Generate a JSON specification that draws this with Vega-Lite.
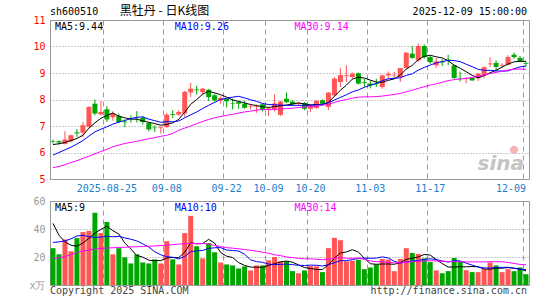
{
  "$schema": "https://vega.github.io/schema/vega-lite/v6.json",
  "background": "white",
  "padding": {"left": 28, "top": 4, "right": 0, "bottom": 0},
  "spacing": 1,
  "config": {
    "view": {"stroke": "#999", "strokeWidth": 1},
    "axis": {"labelFont": "DejaVu Sans Mono", "labelFontSize": 10, "ticks": false, "domain": false, "gridColor": "#999", "gridWidth": 1, "labelOverlap": false},
    "text": {"font": "DejaVu Sans Mono", "fontSize": 10},
    "line": {"strokeWidth": 1}
  },
  "datasets": {
    "k": [
      {"d":"2025-08-12","o":6.43,"h":6.49,"l":6.34,"c":6.41,"v":26.3,"m5":6.30,"m10":5.90,"m30":5.43,"vm5":44.0,"vm10":30.4,"vm30":18.8},
      {"d":"2025-08-13","o":6.43,"h":6.45,"l":6.30,"c":6.38,"v":21.9,"m5":6.33,"m10":6.00,"m30":5.47,"vm5":35.6,"vm10":30.8,"vm30":19.5},
      {"d":"2025-08-14","o":6.32,"h":6.80,"l":6.30,"c":6.49,"v":32.5,"m5":6.38,"m10":6.10,"m30":5.54,"vm5":30.8,"vm10":31.5,"vm30":20.3},
      {"d":"2025-08-15","o":6.42,"h":6.67,"l":6.38,"c":6.65,"v":24.1,"m5":6.45,"m10":6.20,"m30":5.62,"vm5":28.4,"vm10":33.0,"vm30":21.7},
      {"d":"2025-08-18","o":6.76,"h":6.88,"l":6.58,"c":6.72,"v":33.5,"m5":6.53,"m10":6.32,"m30":5.69,"vm5":27.7,"vm10":35.0,"vm30":23.2},
      {"d":"2025-08-19","o":6.75,"h":7.15,"l":6.58,"c":7.03,"v":37.8,"m5":6.65,"m10":6.45,"m30":5.78,"vm5":30.0,"vm10":35.5,"vm30":24.2},
      {"d":"2025-08-20","o":6.96,"h":7.74,"l":6.96,"c":7.72,"v":38.6,"m5":6.92,"m10":6.62,"m30":5.86,"vm5":33.3,"vm10":34.5,"vm30":25.0},
      {"d":"2025-08-21","o":7.84,"h":8.00,"l":7.40,"c":7.47,"v":51.6,"m5":7.12,"m10":6.78,"m30":5.95,"vm5":37.1,"vm10":34.0,"vm30":25.7},
      {"d":"2025-08-22","o":7.44,"h":7.94,"l":7.40,"c":7.53,"v":37.1,"m5":7.29,"m10":6.88,"m30":6.04,"vm5":39.7,"vm10":34.2,"vm30":26.1},
      {"d":"2025-08-25","o":7.63,"h":7.75,"l":7.15,"c":7.25,"v":45.0,"m5":7.40,"m10":6.97,"m30":6.12,"vm5":42.0,"vm10":34.8,"vm30":26.4},
      {"d":"2025-08-26","o":7.33,"h":7.56,"l":7.20,"c":7.46,"v":21.9,"m5":7.49,"m10":7.07,"m30":6.22,"vm5":38.8,"vm10":34.4,"vm30":26.6},
      {"d":"2025-08-27","o":7.38,"h":7.47,"l":7.11,"c":7.15,"v":26.3,"m5":7.37,"m10":7.15,"m30":6.28,"vm5":36.4,"vm10":34.8,"vm30":26.8},
      {"d":"2025-08-28","o":7.17,"h":7.25,"l":6.95,"c":7.14,"v":19.8,"m5":7.31,"m10":7.21,"m30":6.34,"vm5":30.0,"vm10":33.6,"vm30":27.0},
      {"d":"2025-08-29","o":7.30,"h":7.40,"l":7.13,"c":7.28,"v":15.4,"m5":7.26,"m10":7.28,"m30":6.38,"vm5":25.7,"vm10":32.7,"vm30":27.2},
      {"d":"2025-09-01","o":7.27,"h":7.56,"l":7.13,"c":7.25,"v":21.9,"m5":7.26,"m10":7.33,"m30":6.42,"vm5":21.1,"vm10":31.5,"vm30":27.3},
      {"d":"2025-09-02","o":7.30,"h":7.38,"l":7.05,"c":7.15,"v":16.1,"m5":7.19,"m10":7.34,"m30":6.47,"vm5":19.9,"vm10":29.4,"vm30":27.5},
      {"d":"2025-09-03","o":7.11,"h":7.15,"l":6.80,"c":6.87,"v":15.4,"m5":7.14,"m10":7.26,"m30":6.52,"vm5":17.7,"vm10":27.1,"vm30":27.7},
      {"d":"2025-09-04","o":6.94,"h":7.02,"l":6.77,"c":6.92,"v":18.3,"m5":7.09,"m10":7.20,"m30":6.56,"vm5":17.4,"vm10":23.7,"vm30":27.9},
      {"d":"2025-09-05","o":6.92,"h":6.98,"l":6.72,"c":6.95,"v":15.4,"m5":7.03,"m10":7.14,"m30":6.61,"vm5":17.4,"vm10":21.6,"vm30":28.2},
      {"d":"2025-09-08","o":6.96,"h":7.49,"l":6.92,"c":7.43,"v":31.3,"m5":7.06,"m10":7.16,"m30":6.65,"vm5":19.3,"vm10":20.2,"vm30":28.4},
      {"d":"2025-09-09","o":7.45,"h":7.60,"l":7.30,"c":7.42,"v":18.3,"m5":7.12,"m10":7.16,"m30":6.72,"vm5":19.7,"vm10":19.8,"vm30":28.8},
      {"d":"2025-09-10","o":7.43,"h":7.60,"l":7.38,"c":7.53,"v":14.7,"m5":7.25,"m10":7.19,"m30":6.84,"vm5":19.6,"vm10":18.7,"vm30":29.2},
      {"d":"2025-09-11","o":7.47,"h":8.32,"l":7.34,"c":8.29,"v":37.1,"m5":7.52,"m10":7.31,"m30":6.92,"vm5":23.4,"vm10":20.4,"vm30":29.6},
      {"d":"2025-09-12","o":8.27,"h":8.63,"l":8.09,"c":8.41,"v":49.4,"m5":7.82,"m10":7.42,"m30":7.00,"vm5":30.2,"vm10":23.8,"vm30":29.6},
      {"d":"2025-09-15","o":8.38,"h":8.52,"l":8.19,"c":8.35,"v":27.7,"m5":8.00,"m10":7.53,"m30":7.09,"vm5":29.4,"vm10":24.4,"vm30":29.6},
      {"d":"2025-09-16","o":8.28,"h":8.44,"l":8.19,"c":8.41,"v":19.0,"m5":8.20,"m10":7.66,"m30":7.17,"vm5":29.6,"vm10":24.7,"vm30":29.6},
      {"d":"2025-09-17","o":8.37,"h":8.40,"l":7.94,"c":8.09,"v":29.9,"m5":8.31,"m10":7.78,"m30":7.25,"vm5":32.6,"vm10":26.1,"vm30":29.2},
      {"d":"2025-09-18","o":8.16,"h":8.22,"l":7.92,"c":7.97,"v":23.4,"m5":8.25,"m10":7.89,"m30":7.31,"vm5":29.9,"vm10":26.6,"vm30":28.2},
      {"d":"2025-09-19","o":7.97,"h":8.11,"l":7.84,"c":8.06,"v":16.1,"m5":8.18,"m10":8.00,"m30":7.36,"vm5":23.2,"vm10":26.7,"vm30":27.4},
      {"d":"2025-09-22","o":8.03,"h":8.05,"l":7.70,"c":7.93,"v":14.7,"m5":8.09,"m10":8.05,"m30":7.40,"vm5":20.6,"vm10":25.0,"vm30":26.7},
      {"d":"2025-09-23","o":7.85,"h":8.03,"l":7.62,"c":7.83,"v":14.0,"m5":7.98,"m10":8.09,"m30":7.44,"vm5":19.6,"vm10":24.6,"vm30":26.3},
      {"d":"2025-09-24","o":7.90,"h":7.95,"l":7.65,"c":7.84,"v":11.8,"m5":7.93,"m10":8.12,"m30":7.49,"vm5":16.0,"vm10":24.3,"vm30":25.9},
      {"d":"2025-09-25","o":7.84,"h":7.96,"l":7.65,"c":7.69,"v":13.3,"m5":7.87,"m10":8.06,"m30":7.53,"vm5":14.0,"vm10":21.9,"vm30":25.3},
      {"d":"2025-09-26","o":7.72,"h":7.84,"l":7.62,"c":7.74,"v":10.4,"m5":7.81,"m10":7.99,"m30":7.56,"vm5":12.8,"vm10":18.0,"vm30":24.8},
      {"d":"2025-09-29","o":7.74,"h":7.81,"l":7.50,"c":7.77,"v":14.0,"m5":7.77,"m10":7.93,"m30":7.60,"vm5":12.7,"vm10":16.7,"vm30":24.2},
      {"d":"2025-09-30","o":7.82,"h":7.84,"l":7.55,"c":7.62,"v":14.0,"m5":7.73,"m10":7.85,"m30":7.62,"vm5":12.7,"vm10":16.2,"vm30":23.4},
      {"d":"2025-10-09","o":7.62,"h":7.72,"l":7.38,"c":7.66,"v":17.6,"m5":7.70,"m10":7.81,"m30":7.62,"vm5":13.9,"vm10":14.9,"vm30":22.7},
      {"d":"2025-10-10","o":7.62,"h":8.20,"l":7.55,"c":7.85,"v":20.0,"m5":7.73,"m10":7.80,"m30":7.63,"vm5":15.2,"vm10":14.6,"vm30":21.6},
      {"d":"2025-10-13","o":7.42,"h":7.95,"l":7.38,"c":7.92,"v":16.9,"m5":7.76,"m10":7.79,"m30":7.64,"vm5":16.5,"vm10":14.7,"vm30":21.0},
      {"d":"2025-10-14","o":8.03,"h":8.26,"l":7.87,"c":7.90,"v":16.9,"m5":7.79,"m10":7.78,"m30":7.66,"vm5":17.1,"vm10":14.9,"vm30":20.0},
      {"d":"2025-10-15","o":7.92,"h":7.97,"l":7.76,"c":7.82,"v":9.9,"m5":7.83,"m10":7.78,"m30":7.67,"vm5":16.3,"vm10":14.5,"vm30":19.6},
      {"d":"2025-10-16","o":7.84,"h":7.92,"l":7.78,"c":7.87,"v":8.4,"m5":7.87,"m10":7.78,"m30":7.70,"vm5":14.4,"vm10":14.1,"vm30":19.0},
      {"d":"2025-10-17","o":7.87,"h":7.90,"l":7.60,"c":7.65,"v":10.4,"m5":7.83,"m10":7.78,"m30":7.72,"vm5":12.5,"vm10":13.9,"vm30":18.7},
      {"d":"2025-10-20","o":7.65,"h":7.80,"l":7.53,"c":7.75,"v":13.5,"m5":7.80,"m10":7.78,"m30":7.73,"vm5":11.8,"vm10":14.2,"vm30":18.7},
      {"d":"2025-10-21","o":7.68,"h":7.97,"l":7.65,"c":7.95,"v":13.3,"m5":7.81,"m10":7.80,"m30":7.75,"vm5":11.1,"vm10":14.1,"vm30":18.4},
      {"d":"2025-10-22","o":7.97,"h":8.00,"l":7.80,"c":7.84,"v":9.2,"m5":7.81,"m10":7.82,"m30":7.78,"vm5":11.0,"vm10":13.6,"vm30":18.1},
      {"d":"2025-10-23","o":7.72,"h":8.28,"l":7.60,"c":8.26,"v":26.3,"m5":7.89,"m10":7.88,"m30":7.82,"vm5":14.5,"vm10":14.5,"vm30":18.5},
      {"d":"2025-10-24","o":8.16,"h":8.85,"l":8.10,"c":8.79,"v":33.7,"m5":8.12,"m10":7.98,"m30":7.89,"vm5":19.2,"vm10":15.9,"vm30":19.0},
      {"d":"2025-10-27","o":8.66,"h":9.19,"l":8.47,"c":8.92,"v":32.0,"m5":8.35,"m10":8.08,"m30":7.95,"vm5":22.9,"vm10":17.4,"vm30":19.6},
      {"d":"2025-10-28","o":8.88,"h":9.29,"l":8.66,"c":8.91,"v":16.9,"m5":8.54,"m10":8.18,"m30":8.00,"vm5":23.6,"vm10":17.4,"vm30":19.1},
      {"d":"2025-10-29","o":8.85,"h":9.02,"l":8.79,"c":8.97,"v":17.3,"m5":8.77,"m10":8.29,"m30":8.05,"vm5":25.2,"vm10":18.1,"vm30":19.1},
      {"d":"2025-10-30","o":8.99,"h":9.02,"l":8.56,"c":8.60,"v":18.1,"m5":8.84,"m10":8.36,"m30":8.09,"vm5":23.6,"vm10":19.1,"vm30":19.2},
      {"d":"2025-10-31","o":8.66,"h":8.78,"l":8.47,"c":8.63,"v":11.3,"m5":8.81,"m10":8.46,"m30":8.10,"vm5":19.1,"vm10":19.2,"vm30":18.3},
      {"d":"2025-11-03","o":8.60,"h":8.70,"l":8.42,"c":8.53,"v":12.5,"m5":8.73,"m10":8.54,"m30":8.10,"vm5":15.2,"vm10":19.1,"vm30":17.1},
      {"d":"2025-11-04","o":8.62,"h":8.78,"l":8.47,"c":8.58,"v":14.7,"m5":8.66,"m10":8.60,"m30":8.11,"vm5":14.8,"vm10":19.2,"vm30":16.7},
      {"d":"2025-11-05","o":8.47,"h":8.94,"l":8.41,"c":8.91,"v":18.6,"m5":8.65,"m10":8.71,"m30":8.13,"vm5":15.0,"vm10":20.1,"vm30":16.6},
      {"d":"2025-11-06","o":8.91,"h":9.06,"l":8.78,"c":8.97,"v":18.1,"m5":8.72,"m10":8.78,"m30":8.16,"vm5":15.0,"vm10":19.3,"vm30":16.2},
      {"d":"2025-11-07","o":8.91,"h":9.04,"l":8.78,"c":8.93,"v":9.9,"m5":8.78,"m10":8.80,"m30":8.19,"vm5":14.8,"vm10":16.9,"vm30":15.8},
      {"d":"2025-11-10","o":8.85,"h":9.19,"l":8.66,"c":9.19,"v":18.6,"m5":8.92,"m10":8.82,"m30":8.23,"vm5":16.0,"vm10":15.6,"vm30":15.9},
      {"d":"2025-11-11","o":9.19,"h":9.77,"l":9.17,"c":9.77,"v":26.3,"m5":9.15,"m10":8.91,"m30":8.29,"vm5":18.3,"vm10":16.5,"vm30":16.3},
      {"d":"2025-11-12","o":9.73,"h":10.02,"l":9.54,"c":9.57,"v":22.9,"m5":9.29,"m10":8.97,"m30":8.35,"vm5":19.2,"vm10":17.1,"vm30":16.6},
      {"d":"2025-11-13","o":9.48,"h":10.11,"l":9.42,"c":10.02,"v":22.2,"m5":9.50,"m10":9.11,"m30":8.42,"vm5":20.0,"vm10":17.5,"vm30":16.9},
      {"d":"2025-11-14","o":10.02,"h":10.08,"l":9.54,"c":9.60,"v":19.0,"m5":9.63,"m10":9.21,"m30":8.48,"vm5":21.8,"vm10":18.3,"vm30":17.1},
      {"d":"2025-11-17","o":9.60,"h":9.64,"l":9.35,"c":9.41,"v":16.4,"m5":9.67,"m10":9.30,"m30":8.54,"vm5":21.4,"vm10":18.7,"vm30":17.3},
      {"d":"2025-11-18","o":9.29,"h":9.57,"l":9.19,"c":9.44,"v":10.4,"m5":9.61,"m10":9.38,"m30":8.59,"vm5":18.2,"vm10":18.2,"vm30":17.2},
      {"d":"2025-11-19","o":9.43,"h":9.52,"l":9.26,"c":9.40,"v":8.4,"m5":9.57,"m10":9.43,"m30":8.65,"vm5":15.3,"vm10":17.2,"vm30":17.0},
      {"d":"2025-11-20","o":9.50,"h":9.69,"l":9.29,"c":9.46,"v":9.9,"m5":9.46,"m10":9.48,"m30":8.71,"vm5":12.8,"vm10":16.4,"vm30":16.7},
      {"d":"2025-11-21","o":9.29,"h":9.30,"l":8.78,"c":8.81,"v":19.3,"m5":9.30,"m10":9.47,"m30":8.75,"vm5":12.9,"vm10":17.3,"vm30":16.7},
      {"d":"2025-11-24","o":8.80,"h":9.06,"l":8.68,"c":8.78,"v":16.9,"m5":9.18,"m10":9.43,"m30":8.77,"vm5":13.0,"vm10":17.2,"vm30":16.7},
      {"d":"2025-11-25","o":8.77,"h":8.85,"l":8.60,"c":8.80,"v":10.6,"m5":9.05,"m10":9.33,"m30":8.80,"vm5":13.0,"vm10":15.6,"vm30":16.5},
      {"d":"2025-11-26","o":8.81,"h":8.84,"l":8.70,"c":8.72,"v":9.2,"m5":8.91,"m10":9.24,"m30":8.83,"vm5":13.2,"vm10":14.2,"vm30":16.5},
      {"d":"2025-11-27","o":8.80,"h":8.99,"l":8.70,"c":8.97,"v":9.2,"m5":8.82,"m10":9.14,"m30":8.87,"vm5":13.0,"vm10":12.9,"vm30":16.5},
      {"d":"2025-11-28","o":8.91,"h":9.25,"l":8.80,"c":9.22,"v":11.3,"m5":8.90,"m10":9.10,"m30":8.92,"vm5":11.4,"vm10":12.2,"vm30":16.5},
      {"d":"2025-12-01","o":9.33,"h":9.60,"l":9.22,"c":9.36,"v":16.1,"m5":9.01,"m10":9.10,"m30":8.98,"vm5":11.3,"vm10":12.1,"vm30":16.6},
      {"d":"2025-12-02","o":9.38,"h":9.48,"l":9.06,"c":9.23,"v":14.0,"m5":9.10,"m10":9.08,"m30":9.02,"vm5":12.0,"vm10":12.5,"vm30":16.6},
      {"d":"2025-12-03","o":9.28,"h":9.37,"l":9.22,"c":9.31,"v":9.2,"m5":9.22,"m10":9.07,"m30":9.07,"vm5":12.0,"vm10":12.6,"vm30":16.6},
      {"d":"2025-12-04","o":9.31,"h":9.67,"l":9.29,"c":9.60,"v":11.3,"m5":9.34,"m10":9.08,"m30":9.11,"vm5":12.4,"vm10":12.7,"vm30":16.1},
      {"d":"2025-12-05","o":9.69,"h":9.77,"l":9.54,"c":9.60,"v":9.9,"m5":9.42,"m10":9.16,"m30":9.14,"vm5":12.1,"vm10":11.8,"vm30":15.4},
      {"d":"2025-12-08","o":9.57,"h":9.64,"l":9.42,"c":9.44,"v":12.5,"m5":9.44,"m10":9.23,"m30":9.15,"vm5":11.4,"vm10":11.3,"vm30":14.7},
      {"d":"2025-12-09","o":9.38,"h":9.44,"l":9.25,"c":9.35,"v":7.7,"m5":9.44,"m10":9.26,"m30":9.14,"vm5":10.1,"vm10":11.0,"vm30":14.4}
    ]
  },
  "vconcat": [
    {
      "width": 479,
      "height": 159,
      "data": {"name": "k"},
      "resolve": {"axis": {"x": "independent", "y": "independent"}},
      "layer": [
        {
          "mark": {"type": "rule", "strokeWidth": 1},
          "encoding": {
            "x": {
              "field": "d", "type": "ordinal", "title": null,
              "scale": {"paddingInner": 0, "paddingOuter": 0},
              "axis": {
                "values": ["2025-08-25","2025-09-08","2025-09-22","2025-10-09","2025-10-20","2025-11-03","2025-11-17","2025-12-09"],
                "labelExpr": "datum.value == '2025-08-25' ? datum.value : slice(datum.value, 5)",
                "labelColor": "#1a80c8", "labelAngle": 0, "labelPadding": 4, "labelFlush": 6, "labelOverlap": false,
                "grid": true, "gridDash": [5, 4], "bandPosition": 0
              }
            },
            "y": {"field": "l", "type": "quantitative", "title": null,
              "scale": {"domain": [5, 11], "nice": false, "zero": false},
              "axis": {"values": [5,6,7,8,9,10,11], "labelColor": "#ff0000", "labelPadding": 5, "labelOverlap": false, "grid": true, "gridDash": [1, 2]}},
            "y2": {"field": "h"},
            "color": {"condition": {"test": "datum.c >= datum.o", "value": "#ff5555"}, "value": "#00a600"}
          }
        },
        {
          "mark": {"type": "bar", "size": 5},
          "encoding": {
            "x": {"field": "d", "type": "ordinal", "axis": null},
            "y": {"field": "o", "type": "quantitative", "axis": null},
            "y2": {"field": "c"},
            "color": {"condition": {"test": "datum.c >= datum.o", "value": "#ff5555"}, "value": "#00a600"}
          }
        },
        {"mark": {"type": "line", "color": "#000000"}, "encoding": {"x": {"field": "d", "type": "ordinal", "axis": null}, "y": {"field": "m5", "type": "quantitative", "axis": null}}},
        {"mark": {"type": "line", "color": "#0000ff"}, "encoding": {"x": {"field": "d", "type": "ordinal", "axis": null}, "y": {"field": "m10", "type": "quantitative", "axis": null}}},
        {"mark": {"type": "line", "color": "#ff00ff"}, "encoding": {"x": {"field": "d", "type": "ordinal", "axis": null}, "y": {"field": "m30", "type": "quantitative", "axis": null}}},
        {
          "data": {"values": [{}]},
          "mark": {"type": "text", "align": "left", "baseline": "bottom", "dx": -3, "dy": -3, "color": "#000"},
          "encoding": {"x": {"datum": "2025-08-12", "type": "ordinal", "axis": null}, "y": {"datum": 11, "type": "quantitative", "axis": null}, "text": {"value": "sh600510"}}
        },
        {
          "data": {"values": [{}]},
          "mark": {"type": "text", "align": "left", "baseline": "bottom", "dx": 1, "dy": -2, "color": "#000", "font": "Noto Sans CJK SC", "fontSize": 12},
          "encoding": {"x": {"datum": "2025-08-27", "type": "ordinal", "axis": null}, "y": {"datum": 11, "type": "quantitative", "axis": null}, "text": {"value": "黑牡丹   -    日K线图"}}
        },
        {
          "data": {"values": [{}]},
          "mark": {"type": "text", "align": "right", "baseline": "bottom", "dx": 1, "dy": -3, "color": "#000"},
          "encoding": {"x": {"datum": "2025-12-09", "type": "ordinal", "axis": null}, "y": {"datum": 11, "type": "quantitative", "axis": null}, "text": {"value": "2025-12-09 15:00:00"}}
        },
        {
          "data": {"values": [{}]},
          "mark": {"type": "text", "align": "left", "baseline": "top", "dx": 2, "dy": 2, "color": "#000000"},
          "encoding": {"x": {"datum": "2025-08-12", "type": "ordinal", "axis": null}, "y": {"datum": 11, "type": "quantitative", "axis": null}, "text": {"value": "MA5:9.44"}}
        },
        {
          "data": {"values": [{}]},
          "mark": {"type": "text", "align": "left", "baseline": "top", "dx": 2, "dy": 2, "color": "#0000ff"},
          "encoding": {"x": {"datum": "2025-09-09", "type": "ordinal", "axis": null}, "y": {"datum": 11, "type": "quantitative", "axis": null}, "text": {"value": "MA10:9.26"}}
        },
        {
          "data": {"values": [{}]},
          "mark": {"type": "text", "align": "left", "baseline": "top", "dx": 2, "dy": 2, "color": "#ff00ff"},
          "encoding": {"x": {"datum": "2025-10-15", "type": "ordinal", "axis": null}, "y": {"datum": 11, "type": "quantitative", "axis": null}, "text": {"value": "MA30:9.14"}}
        },
        {
          "data": {"values": [{}]},
          "mark": {"type": "point", "filled": true, "shape": "circle", "size": 70, "color": "#f5a3a3", "opacity": 0.8},
          "encoding": {"x": {"datum": "2025-12-05", "type": "ordinal", "axis": null}, "y": {"datum": 6.1, "type": "quantitative", "axis": null}}
        },
        {
          "data": {"values": [{}]},
          "mark": {"type": "text", "align": "right", "baseline": "alphabetic", "dx": -2, "color": "#c4c4c4", "font": "DejaVu Sans", "fontSize": 20, "fontStyle": "italic", "fontWeight": "bold"},
          "encoding": {"x": {"datum": "2025-12-09", "type": "ordinal", "axis": null}, "y": {"datum": 5.34, "type": "quantitative", "axis": null}, "text": {"value": "sina"}}
        }
      ]
    },
    {
      "width": 479,
      "height": 84,
      "data": {"name": "k"},
      "resolve": {"axis": {"x": "independent", "y": "independent"}},
      "layer": [
        {
          "mark": {"type": "bar", "size": 5},
          "encoding": {
            "x": {
              "field": "d", "type": "ordinal", "title": null,
              "scale": {"paddingInner": 0, "paddingOuter": 0},
              "axis": {
                "values": ["2025-08-25","2025-09-08","2025-09-22","2025-10-09","2025-10-20","2025-11-03","2025-11-17","2025-12-09"],
                "labels": false, "grid": true, "gridDash": [5, 4], "bandPosition": 0
              }
            },
            "y": {"field": "v", "type": "quantitative", "title": null,
              "scale": {"domain": [0, 60], "nice": false},
              "axis": {"values": [0, 20, 40, 60], "labelExpr": "datum.value == 0 ? 'x万' : datum.label", "labelColor": "#999999", "labelPadding": 5, "labelOverlap": false, "grid": true, "gridDash": [1, 2]}},
            "color": {"condition": {"test": "datum.c >= datum.o", "value": "#ff5555"}, "value": "#00a600"}
          }
        },
        {"mark": {"type": "line", "color": "#000000"}, "encoding": {"x": {"field": "d", "type": "ordinal", "axis": null}, "y": {"field": "vm5", "type": "quantitative", "axis": null}}},
        {"mark": {"type": "line", "color": "#0000ff"}, "encoding": {"x": {"field": "d", "type": "ordinal", "axis": null}, "y": {"field": "vm10", "type": "quantitative", "axis": null}}},
        {"mark": {"type": "line", "color": "#ff00ff"}, "encoding": {"x": {"field": "d", "type": "ordinal", "axis": null}, "y": {"field": "vm30", "type": "quantitative", "axis": null}}},
        {
          "data": {"values": [{}]},
          "mark": {"type": "text", "align": "left", "baseline": "top", "dx": 2, "dy": 2, "color": "#000000"},
          "encoding": {"x": {"datum": "2025-08-12", "type": "ordinal", "axis": null}, "y": {"datum": 60, "type": "quantitative", "axis": null}, "text": {"value": "MA5:9"}}
        },
        {
          "data": {"values": [{}]},
          "mark": {"type": "text", "align": "left", "baseline": "top", "dx": 2, "dy": 2, "color": "#0000ff"},
          "encoding": {"x": {"datum": "2025-09-09", "type": "ordinal", "axis": null}, "y": {"datum": 60, "type": "quantitative", "axis": null}, "text": {"value": "MA10:10"}}
        },
        {
          "data": {"values": [{}]},
          "mark": {"type": "text", "align": "left", "baseline": "top", "dx": 2, "dy": 2, "color": "#ff00ff"},
          "encoding": {"x": {"datum": "2025-10-15", "type": "ordinal", "axis": null}, "y": {"datum": 60, "type": "quantitative", "axis": null}, "text": {"value": "MA30:14"}}
        },
        {
          "data": {"values": [{}]},
          "mark": {"type": "text", "align": "left", "baseline": "top", "dx": -3, "dy": 1, "color": "#444444"},
          "encoding": {"x": {"datum": "2025-08-12", "type": "ordinal", "axis": null}, "y": {"datum": 0, "type": "quantitative", "axis": null}, "text": {"value": "Copyright 2025 SINA.COM"}}
        },
        {
          "data": {"values": [{}]},
          "mark": {"type": "text", "align": "right", "baseline": "top", "dx": 1, "dy": 1, "color": "#444444"},
          "encoding": {"x": {"datum": "2025-12-09", "type": "ordinal", "axis": null}, "y": {"datum": 0, "type": "quantitative", "axis": null}, "text": {"value": "http://finance.sina.com.cn"}}
        }
      ]
    }
  ]
}
